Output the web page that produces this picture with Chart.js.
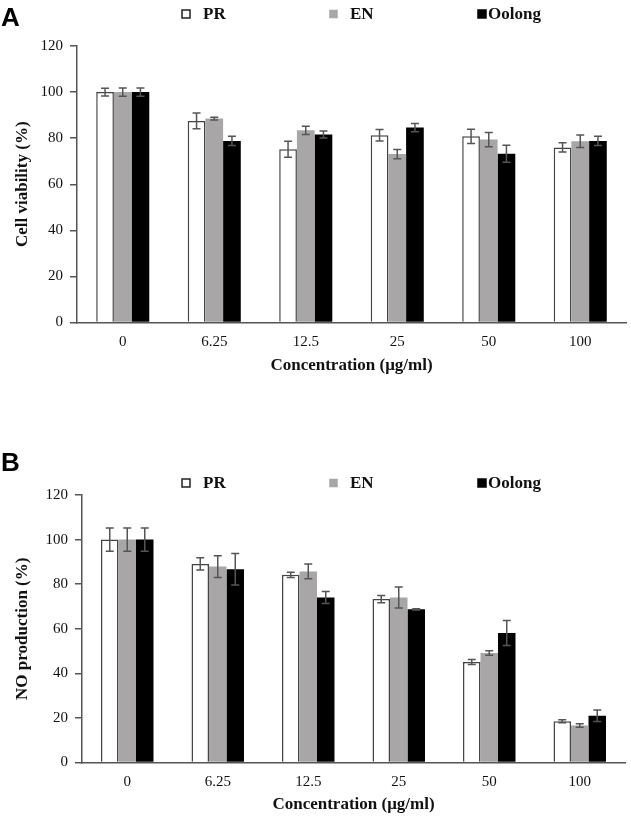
<!DOCTYPE html>
<html>
<head>
<meta charset="utf-8">
<script src="https://cdn.jsdelivr.net/npm/chart.js@4/dist/chart.umd.min.js"></script>
<style>
  html, body { margin: 0; padding: 0; background: #fff; }
  #wrap { position: relative; width: 631px; height: 820px; }
  .box { position: absolute; left: 0; width: 631px; }
  #boxA { top: 0; height: 400px; }
  #boxB { top: 400px; height: 420px; }
</style>
</head>
<body>
<div id="wrap">
  <div class="box" id="boxA"><canvas id="chartA" width="631" height="400"></canvas></div>
  <div class="box" id="boxB"><canvas id="chartB" width="631" height="420"></canvas></div>
</div>
<script>
// ---- data ----
const categories = ['0', '6.25', '12.5', '25', '50', '100'];
const seriesNames = ['PR', 'EN', 'Oolong'];
const yTicks = [0, 20, 40, 60, 80, 100, 120];

const viabilityPR     = [100, 87.5, 75.2, 81.3, 80.8, 76.0];
const viabilityEN     = [100, 88.5, 83.4, 73.1, 79.4, 78.7];
const viabilityOolong = [100, 78.8, 81.6, 84.6, 73.2, 78.8];
const viabilityErrPR     = [1.7, 3.4, 3.5, 2.5, 3.1, 2.0];
const viabilityErrEN     = [1.8, 0.6, 1.8, 2.0, 3.1, 2.7];
const viabilityErrOolong = [1.8, 2.0, 1.5, 1.8, 3.7, 2.0];

const noPR     = [100, 89.1, 84.2, 73.3, 45.1, 18.5];
const noEN     = [100, 87.9, 85.7, 74.0, 49.1, 16.6];
const noOolong = [100, 86.7, 74.0, 68.7, 58.1, 21.0];
const noErrPR     = [5.2, 2.7, 1.2, 1.6, 1.1, 0.7];
const noErrEN     = [5.2, 4.9, 3.3, 4.7, 1.0, 0.8];
const noErrOolong = [5.2, 7.1, 2.7, 0.3, 5.6, 2.6];

// ---- styles ----
const fills   = ['#ffffff', '#a8a6a6', '#000000'];
const borders = ['#444444', '#a8a6a6', '#000000'];
const borderW = [1.5, 0, 0];
const legendBoxFill   = ['#ffffff', '#a8a6a6', '#000000'];
const legendBoxBorder = ['#222222', '#a8a6a6', '#000000'];
const legendBoxX  = [182, 330, 478];
const legendTextX = [203, 350, 488];
const legendBoxSize = [8, 7, 8];
const serif = "'Liberation Serif', 'Times New Roman', serif";

const errorBarPlugin = {
  id: 'errorBars',
  afterDatasetsDraw(chart) {
    const ctx = chart.ctx;
    const yScale = chart.scales.y;
    ctx.save();
    ctx.strokeStyle = '#555555';
    ctx.lineWidth = 1.5;
    chart.data.datasets.forEach((ds, i) => {
      const meta = chart.getDatasetMeta(i);
      meta.data.forEach((bar, j) => {
        const v = ds.data[j], e = ds.errors[j];
        const yTop = yScale.getPixelForValue(v + e);
        const yBot = yScale.getPixelForValue(v - e);
        const x = bar.x, cap = 4;
        ctx.beginPath();
        ctx.moveTo(x, yTop); ctx.lineTo(x, yBot);
        ctx.moveTo(x - cap, yTop); ctx.lineTo(x + cap, yTop);
        ctx.moveTo(x - cap, yBot); ctx.lineTo(x + cap, yBot);
        ctx.stroke();
      });
    });
    ctx.restore();
  }
};

const headerPlugin = {
  id: 'header',
  afterDraw(chart, args, opts) {
    const ctx = chart.ctx;
    ctx.save();
    // panel letter
    ctx.fillStyle = '#000';
    ctx.font = "bold 26px 'Liberation Sans', Arial, sans-serif";
    ctx.textBaseline = 'alphabetic';
    ctx.textAlign = 'left';
    ctx.fillText(opts.letter, 1, opts.letterBaseline);
    // legend
    const cy = opts.legendY;
    ctx.font = 'bold 17px ' + serif;
    ctx.textBaseline = 'middle';
    chart.data.datasets.forEach((ds, i) => {
      const s = legendBoxSize[i];
      const bx = legendBoxX[i], by = cy - s / 2;
      ctx.fillStyle = legendBoxFill[i];
      ctx.fillRect(bx, by, s, s);
      ctx.strokeStyle = legendBoxBorder[i];
      ctx.lineWidth = 1.5;
      ctx.strokeRect(bx, by, s, s);
      ctx.fillStyle = '#111';
      ctx.fillText(ds.label, legendTextX[i], cy + 1);
    });
    ctx.restore();
  }
};

function makeChart(id, series, errs, yTitle, geom) {
  return new Chart(document.getElementById(id), {
    type: 'bar',
    data: {
      labels: categories,
      datasets: seriesNames.map((n, i) => ({
        label: n,
        data: series[i],
        errors: errs[i],
        backgroundColor: fills[i],
        borderColor: borders[i],
        borderWidth: borderW[i],
        borderSkipped: 'bottom',
        categoryPercentage: 0.58,
        barPercentage: 1.0
      }))
    },
    options: {
      responsive: false,
      animation: false,
      devicePixelRatio: 1,
      layout: { padding: { top: geom.top, right: geom.right, left: 0, bottom: 0 } },
      plugins: {
        legend: { display: false },
        tooltip: { enabled: false },
        header: { letter: geom.letter, letterBaseline: geom.letterBaseline, legendY: geom.legendY }
      },
      scales: {
        x: {
          grid: { display: false, drawTicks: false },
          border: { display: true, color: '#555555', width: 1.5 },
          ticks: { color: '#111', font: { family: serif, size: 15 }, padding: geom.xTickPad },
          title: { display: true, text: 'Concentration (μg/ml)', color: '#111',
                   font: { family: serif, size: 17, weight: 'bold' },
                   padding: { top: 0, bottom: geom.xTitlePadBottom } },
          afterFit(scale) { scale.height = geom.xHeight; }
        },
        y: {
          min: 0, max: 120,
          afterBuildTicks(scale) { scale.ticks = yTicks.map(v => ({ value: v })); },
          grid: { drawOnChartArea: false, drawTicks: true, tickLength: 7, color: '#555555', lineWidth: 1.5 },
          border: { display: true, color: '#555555', width: 1.5 },
          ticks: { color: '#111', font: { family: serif, size: 15 }, padding: 7 },
          title: { display: true, text: yTitle, color: '#111',
                   font: { family: serif, size: 17, weight: 'bold' },
                   padding: { top: 12, bottom: 0 } },
          afterFit(scale) { scale.width = geom.yWidth; }
        }
      }
    },
    plugins: [errorBarPlugin, headerPlugin]
  });
}

makeChart('chartA',
  [viabilityPR, viabilityEN, viabilityOolong],
  [viabilityErrPR, viabilityErrEN, viabilityErrOolong],
  'Cell viability (%)',
  { top: 46, right: 5, yWidth: 77, xHeight: 77.5, xTickPad: 11, xTitlePadBottom: 24,
    letter: 'A', letterBaseline: 26, legendY: 14 });

makeChart('chartB',
  [noPR, noEN, noOolong],
  [noErrPR, noErrEN, noErrOolong],
  'NO production (%)',
  { top: 95, right: 6, yWidth: 82, xHeight: 57.5, xTickPad: 10.5, xTitlePadBottom: 5,
    letter: 'B', letterBaseline: 71, legendY: 83 });
</script>
</body>
</html>
